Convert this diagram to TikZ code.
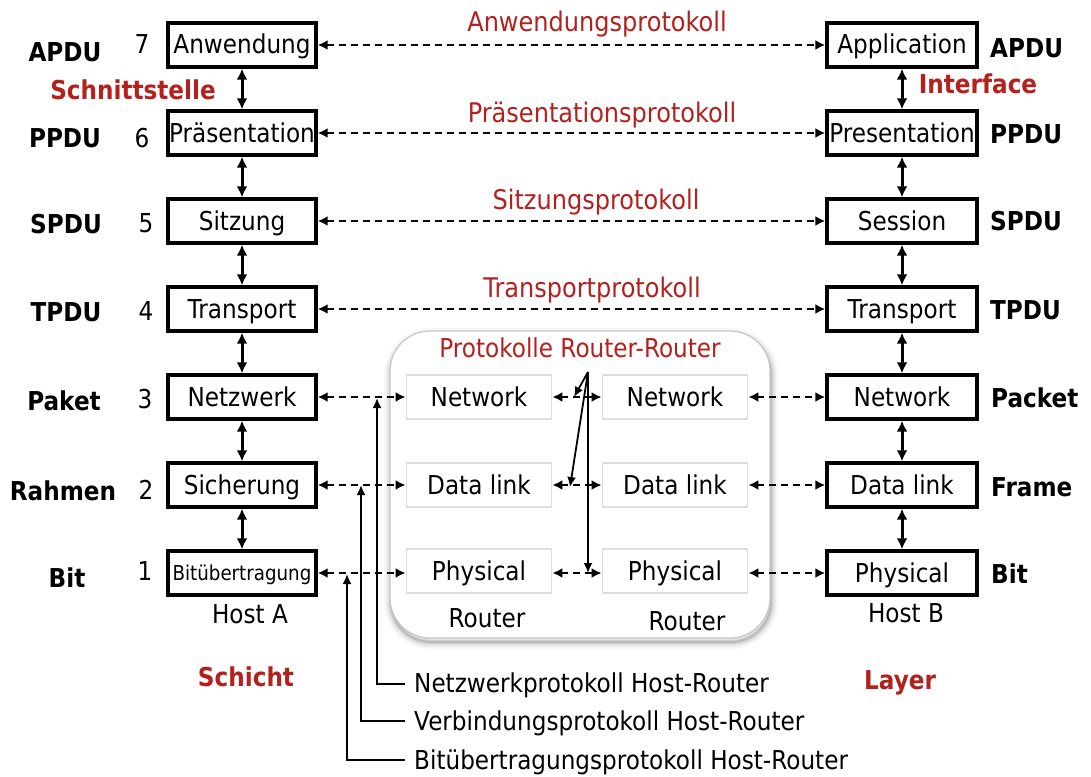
\documentclass[tikz,border=0pt]{standalone}
\usepackage{fontspec}
\setmainfont{DejaVu Sans}[FakeStretch=0.89]
\usetikzlibrary{arrows.meta,calc}
\definecolor{protored}{RGB}{180,32,30}
\newcommand\fsz[1]{\fontsize{#1}{#1}\selectfont}

\begin{document}
\begin{tikzpicture}[x=1pt,y=-1pt,
  layerbox/.style={draw, line width=3.4pt, minimum width=148pt, minimum height=44pt,
                   inner sep=0pt, fill=white, font=\fsz{26}, text height=18pt, text depth=0pt},
  rtrbox/.style={draw=black!13, line width=1.8pt, minimum width=145pt, minimum height=44pt,
                 inner sep=0pt, fill=white, font=\fsz{26}, text height=18pt, text depth=0pt},
  pdu/.style={inner sep=0pt, font=\fsz{26}\bfseries},
  num/.style={inner sep=0pt, anchor=base, font=\fsz{26}},
  plain/.style={inner sep=0pt, anchor=base, font=\fsz{26}},
  redbold/.style={inner sep=0pt, anchor=base, text=protored, font=\fsz{26}\bfseries},
  proto/.style={inner sep=0pt, anchor=base, text=protored, font=\fsz{27}},
  iface/.style={line width=3pt, {Latex[length=11pt,width=11pt]}-{Latex[length=11pt,width=11pt]}},
  dasharrow/.style={line width=2pt, dash pattern=on 7pt off 5pt,
                    {Latex[length=10pt,width=10pt]}-{Latex[length=10pt,width=10pt]}},
  solidarrow/.style={line width=1.8pt, -{Latex[length=10pt,width=9pt]}}
]
\useasboundingbox (0,0) rectangle (1091,776);

% ---------- router enclosure with soft shadow ----------
\coordinate (encA) at (390,331);
\coordinate (encB) at (770,638);
\foreach \w/\o in {14/0.03,10/0.04,7/0.05,4/0.07,2/0.10}
  \draw[black, opacity=\o, line width=\w pt, rounded corners=40pt]
    ([shift={(1,4)}]encA) rectangle ([shift={(1,4)}]encB);
\draw[black!22, line width=1.2pt, fill=white, rounded corners=40pt] (encA) rectangle (encB);

% ---------- host A ----------
\node[layerbox] (a7) at (242,45)  {Anwendung};
\node[layerbox] (a6) at (242,133) {Präsentation};
\node[layerbox] (a5) at (242,221) {Sitzung};
\node[layerbox] (a4) at (242,309) {Transport};
\node[layerbox] (a3) at (242,397) {Netzwerk};
\node[layerbox] (a2) at (242,485) {Sicherung};
\node[layerbox, text height=15pt] (a1) at (242,573) {\fsz{20.5}Bitübertragung};

% ---------- host B ----------
\node[layerbox, minimum width=150pt] (b7) at (902,45)  {Application};
\node[layerbox, minimum width=150pt] (b6) at (902,133) {Presentation};
\node[layerbox, minimum width=150pt] (b5) at (902,221) {Session};
\node[layerbox, minimum width=150pt] (b4) at (902,309) {Transport};
\node[layerbox, minimum width=150pt] (b3) at (902,397) {Network};
\node[layerbox, minimum width=150pt] (b2) at (902,485) {Data link};
\node[layerbox, minimum width=150pt] (b1) at (902,573) {Physical};

% ---------- the two routers ----------
\node[rtrbox] (l3) at (479,397) {Network};
\node[rtrbox] (l2) at (479,485) {Data link};
\node[rtrbox] (l1) at (479,571) {Physical};
\node[rtrbox] (r3) at (675,397) {Network};
\node[rtrbox] (r2) at (675,485) {Data link};
\node[rtrbox] (r1) at (675,571) {Physical};

\node[proto, font=\fsz{26}] (rrtitle) at (580,357) {Protokolle Router-Router};
\node[plain] (rtl) at (487,627) {Router};
\node[plain] (rtr) at (687,630) {Router};

% ---------- vertical interfaces ----------
\foreach \u/\d in {7/6,6/5,5/4,4/3,3/2,2/1}{
  \draw[iface] (a\u.south) -- (a\d.north);
  \draw[iface] (b\u.south) -- (b\d.north);
}

% ---------- peer protocols ----------
\foreach \n in {7,6,5,4}
  \draw[dasharrow] (a\n.east) -- (b\n.west);
\foreach \n in {3,2}{
  \draw[dasharrow] (a\n.east) -- (l\n.west);
  \draw[dasharrow] (l\n.east) -- (r\n.west);
  \draw[dasharrow] (r\n.east) -- (b\n.west);
}
\draw[dasharrow] (a1.east) -- (a1.east -| l1.west);
\draw[dasharrow] (a1.east -| l1.east) -- (a1.east -| r1.west);
\draw[dasharrow] (b1.west -| r1.east) -- (b1.west);

\node[proto] (p7) at (597,32)  {Anwendungsprotokoll};
\node[proto] (p6) at (602,122) {Präsentationsprotokoll};
\node[proto] (p5) at (596,209) {Sitzungsprotokoll};
\node[proto] (p4) at (592,297) {Transportprotokoll};

% ---------- router-router protocol pointers ----------
\coordinate (rr) at (588,372);
\coordinate (t3) at (574,397);
\coordinate (t2) at (570,487);
\coordinate (t1) at (588,573);
\draw[solidarrow] (rr) -- (t3);
\draw[solidarrow] (rr) -- (t2);
\draw[solidarrow] (rr) -- (t1);

% ---------- host-router protocol pointers ----------
\coordinate (v3) at (377,398);
\coordinate (v2) at (361,485);
\coordinate (v1) at (347,574);
\node[plain, anchor=base west] (h3) at (414,692) {Netzwerkprotokoll Host-Router};
\node[plain, anchor=base west] (h2) at (414,730) {Verbindungsprotokoll Host-Router};
\node[plain, anchor=base west] (h1) at (414,769) {Bitübertragungsprotokoll Host-Router};
\draw[solidarrow] ([shift={(-9,-8)}]h3.base west) -| (v3);
\draw[solidarrow] ([shift={(-9,-9)}]h2.base west) -| (v2);
\draw[solidarrow] ([shift={(-9,-9)}]h1.base west) -| (v1);

% ---------- layer numbers and PDU names, left ----------
\node[num] (n7) at (142,53)  {7};
\node[num] (n6) at (142,147) {6};
\node[num] (n5) at (146,232) {5};
\node[num] (n4) at (146,320) {4};
\node[num] (n3) at (145,408) {3};
\node[num] (n2) at (146,499) {2};
\node[num] (n1) at (145,580) {1};

\node[pdu, anchor=base] (la7) at (65,61)  {APDU};
\node[pdu, anchor=base] (la6) at (65,147) {PPDU};
\node[pdu, anchor=base] (la5) at (66,233) {SPDU};
\node[pdu, anchor=base] (la4) at (66,321) {TPDU};
\node[pdu, anchor=base] (la3) at (64,410) {Paket};
\node[pdu, anchor=base] (la2) at (63,500) {Rahmen};
\node[pdu, anchor=base] (la1) at (67,587) {Bit};
\node[redbold] (ifl) at (133,99) {Schnittstelle};

% ---------- PDU names, right ----------
\node[pdu, anchor=base west] (ra7) at (990,58)  {APDU};
\node[pdu, anchor=base west] (ra6) at (990,143) {PPDU};
\node[pdu, anchor=base west] (ra5) at (990,230) {SPDU};
\node[pdu, anchor=base west] (ra4) at (990,319) {TPDU};
\node[pdu, anchor=base west] (ra3) at (991,407) {Packet};
\node[pdu, anchor=base west] (ra2) at (991,496) {Frame};
\node[pdu, anchor=base west] (ra1) at (991,583) {Bit};
\node[redbold] (ifr) at (978,93) {Interface};

% ---------- captions ----------
\node[plain] (hostA) at (250,623) {Host A};
\node[plain] (hostB) at (906,622) {Host B};
\node[redbold] (schicht) at (246,686) {Schicht};
\node[redbold] (layer) at (900,689) {Layer};
\end{tikzpicture}
\end{document}
